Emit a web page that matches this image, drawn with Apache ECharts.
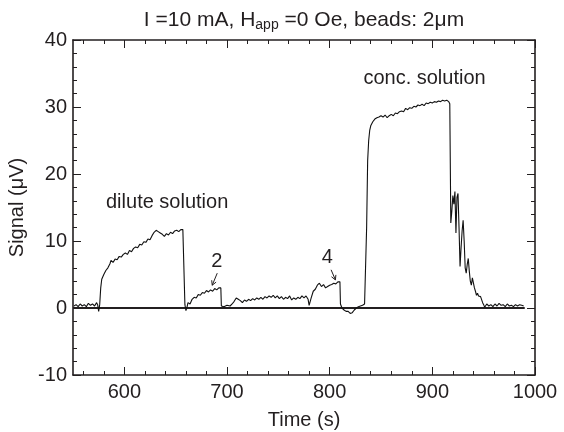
<!DOCTYPE html>
<html lang="en">
<head>
    <meta charset="UTF-8">
    <title>Signal vs time</title>
    <script src="https://cdn.jsdelivr.net/npm/echarts@6/dist/echarts.min.js"></script>
</head>
<body style="margin:0;background:#fff;">
<div id="chart" style="width: 564px;height: 432px;"></div>
<script>
    // time (s) and signal (uV)
    var time = [551,553,555,557,559,561,563,565,567,569,571,573,574,575,576,577,578,580,582,584,586,587,589,591,593,595,597,599,
        601,603,605,607,609,611,613,615,617,619,621,623,625,627,629,631,633,635,637,639,641,643,645,647,649,651,653,655,657,658.5,
        659,660,661,662,664,666,668,670,672,674,676,678,680,682,684,686,688,690,692,694,694.5,697,700,703,705,707,709,711,713,715,
        717,719,721,723,725,727,729,731,733,735,737,739,741,743,745,747,749,751,753,755,757,759,761,763,765,767,769,771,773,775,
        777,779,780,782,784,786,788,790,792,794,796,798,800,802,804,806,808,810,810.5,812,814,816,818,820,822,824,826,828,830,832,
        834,835.5,836,837,838,839,840,842,844,846,848,850,852,854,856,858,860,862,864,866,868,870,872,874,876,878,880,882,884,886,
        888,890,892,894,896,898,900,902,904,906,908,910,912,914,916,917,918,919,920,921,922,923,924,925,926,927,928,929,930,931,
        932,933,934,935,936,937,938,939,940,941,942,943,944,945,946,947,948,949,950,951,953,955,957,959,961,963,965,967,969,971,
        973,975,977,979,981,983,985,987,989];
    var signal = [0.3,0.5,0.2,0.6,0.3,0.5,0.2,0.7,0.4,0.6,0.3,0.8,0.5,-0.5,0.5,3.0,4.3,5.0,5.6,6.0,6.6,7.1,6.8,7.3,7.2,7.7,7.6,8.0,
        8.2,8.0,8.6,8.4,8.9,9.1,9.0,9.5,9.4,9.9,9.8,10.3,10.2,10.8,11.3,11.6,11.4,11.2,11.0,10.7,11.1,10.9,11.3,11.1,11.5,11.6,11.4,11.7,11.7,11.7,
        0.5,-0.4,0.1,0.8,0.6,1.3,1.6,1.5,2.0,1.9,2.3,2.2,2.6,2.4,2.7,2.5,2.9,2.7,3.0,3.0,0.3,0.2,0.4,0.3,0.6,1.0,1.5,1.3,1.1,0.8,
        1.2,1.0,1.3,1.1,1.4,1.2,1.5,1.3,1.6,1.3,1.7,1.5,1.8,1.6,1.9,1.5,1.8,1.4,1.7,1.3,1.6,1.4,1.8,1.2,1.5,1.3,1.6,1.4,1.8,1.5,
        1.8,1.3,0.4,1.5,2.5,2.8,3.4,3.7,3.2,3.5,3.0,3.2,3.4,3.5,3.7,3.6,3.9,3.9,0.6,0.0,-0.3,-0.5,-0.5,-0.8,-0.7,-0.3,0.0,0.2,0.3,0.4,
        0.6,0.8,12,22,25,26.5,27.2,27.8,28.2,28.4,28.5,28.7,28.5,28.8,28.4,28.7,28.9,28.7,29.1,29.0,29.3,29.4,29.3,29.8,29.6,29.9,29.8,30.1,30.0,30.3,
        30.2,30.4,30.2,30.6,30.5,30.7,30.6,30.8,30.7,30.9,30.8,31.0,30.9,31.0,30.8,30.5,12.7,14.5,16.8,15.5,17.4,11.2,16.5,17.1,12,6.2,9,11.5,13.1,10,
        6,5.2,6.5,7.4,5.5,4.0,3.4,4.5,4.4,3.0,2.5,1.9,2.2,1.8,2.0,1.7,1.5,0.8,0.5,0.1,0.6,0.3,0.5,0.2,0.6,0.3,0.7,0.4,0.5,0.2,
        0.6,0.3,0.4,0.2,0.5,0.3,0.5,0.4,0.3];
    var zeroLine = [[550, 0], [990, 0]];
    var xLabels = [600, 700, 800, 900, 1000];
    var xMinor = [560, 580, 620, 640, 660, 680, 720, 740, 760, 780, 820, 840, 860, 880, 920, 940, 960, 980];
    // text notes: [text, time, signal]
    var notes = [['dilute solution', 641.7, 15.7], ['2', 690, 6.9], ['4', 797.8, 7.5], ['conc. solution', 892.4, 34.3]];
    // arrows: [fromTime, fromSignal, toTime, toSignal]
    var arrows = [[690.5, 5.2, 685.6, 3.4], [801.4, 5.7, 805.6, 4.2]];

    var font = 'Liberation Sans, Arial, sans-serif';
    var ink = '#231f20';

    var points = [];
    for (var i = 0; i < time.length; i++) {
        points.push([time[i], signal[i]]);
    }

    function xAxisDef(pos, major, labels) {
        return {
            type: 'value', position: pos, min: 550, max: 1000,
            axisLine: {show: major, onZero: false, lineStyle: {color: ink, width: 1.6}},
            axisTick: {show: true, inside: true, length: major ? 8 : 4,
                customValues: major ? xLabels : xMinor, lineStyle: {color: ink, width: 1}},
            axisLabel: {show: labels, customValues: xLabels, color: ink, fontSize: 20, fontFamily: font, margin: 7,
                formatter: function (v) { return String(v); }},
            splitLine: {show: false}
        };
    }
    function yAxisDef(pos, labels) {
        return {
            type: 'value', position: pos, min: -10, max: 40, interval: 10,
            axisLine: {show: true, onZero: false, lineStyle: {color: ink, width: 1.6}},
            axisTick: {show: true, inside: true, length: 8, lineStyle: {color: ink, width: 1}},
            minorTick: {show: true, splitNumber: 5, length: 4, lineStyle: {color: ink, width: 1}},
            axisLabel: {show: labels, color: ink, fontSize: 20, fontFamily: font, margin: 6},
            splitLine: {show: false}
        };
    }

    var xs = [xAxisDef('bottom', true, true), xAxisDef('bottom', false, false),
              xAxisDef('top', true, false), xAxisDef('top', false, false)];
    xs[0].name = 'Time (s)';
    xs[0].nameLocation = 'center';
    xs[0].nameGap = 35;
    xs[0].nameTextStyle = {color: ink, fontSize: 20, fontFamily: font};
    var ys = [yAxisDef('left', true), yAxisDef('right', false)];
    ys[0].name = 'Signal (\u03bcV)';
    ys[0].nameLocation = 'center';
    ys[0].nameGap = 44;
    ys[0].nameTextStyle = {color: ink, fontSize: 20, fontFamily: font};

    var myChart = echarts.init(document.getElementById('chart'));
    var option = {
        backgroundColor: '#fff',
        animation: false,
        title: {
            text: '{n|I =10 mA, H}{s|app}{n| =0 Oe, beads: 2\u03bcm}',
            left: 299, top: 3, textAlign: 'center',
            textStyle: {
                rich: {
                    n: {fontSize: 21, color: ink, fontFamily: font, fontWeight: 'normal'},
                    s: {fontSize: 14, color: ink, fontFamily: font, fontWeight: 'normal',
                        verticalAlign: 'bottom', padding: [10, 0, 0, 0]}
                }
            }
        },
        grid: {left: 73, right: 29, top: 40, bottom: 57, outerBoundsMode: 'none'},
        xAxis: xs,
        yAxis: ys,
        series: [{
            type: 'line', xAxisIndex: 0, yAxisIndex: 0,
            data: zeroLine, showSymbol: false, symbol: 'none',
            lineStyle: {color: ink, width: 2}
        }, {
            type: 'line', xAxisIndex: 0, yAxisIndex: 0,
            data: points, showSymbol: false, symbol: 'none',
            lineStyle: {color: '#111', width: 1.1}
        }]
    };
    myChart.setOption(option);

    // annotations placed through the axis scales
    var gfx = [];
    notes.forEach(function (n) {
        var p = myChart.convertToPixel({xAxisIndex: 0, yAxisIndex: 0}, [n[1], n[2]]);
        gfx.push({type: 'text', x: p[0], y: p[1],
            style: {text: n[0], fill: ink, fontSize: 20, fontFamily: font, align: 'center', verticalAlign: 'middle'}});
    });
    arrows.forEach(function (a) {
        var p0 = myChart.convertToPixel({xAxisIndex: 0, yAxisIndex: 0}, [a[0], a[1]]);
        var p1 = myChart.convertToPixel({xAxisIndex: 0, yAxisIndex: 0}, [a[2], a[3]]);
        var ang = Math.atan2(p1[1] - p0[1], p1[0] - p0[0]);
        var h = 5, w = 0.5;
        var l = [p1[0] - h * Math.cos(ang - w), p1[1] - h * Math.sin(ang - w)];
        var r = [p1[0] - h * Math.cos(ang + w), p1[1] - h * Math.sin(ang + w)];
        gfx.push({type: 'polyline', shape: {points: [p0, p1]}, style: {stroke: ink, lineWidth: 1}});
        gfx.push({type: 'polyline', shape: {points: [l, p1, r]}, style: {stroke: ink, lineWidth: 1, fill: null}});
    });
    myChart.setOption({graphic: gfx});
</script>
</body>
</html>
